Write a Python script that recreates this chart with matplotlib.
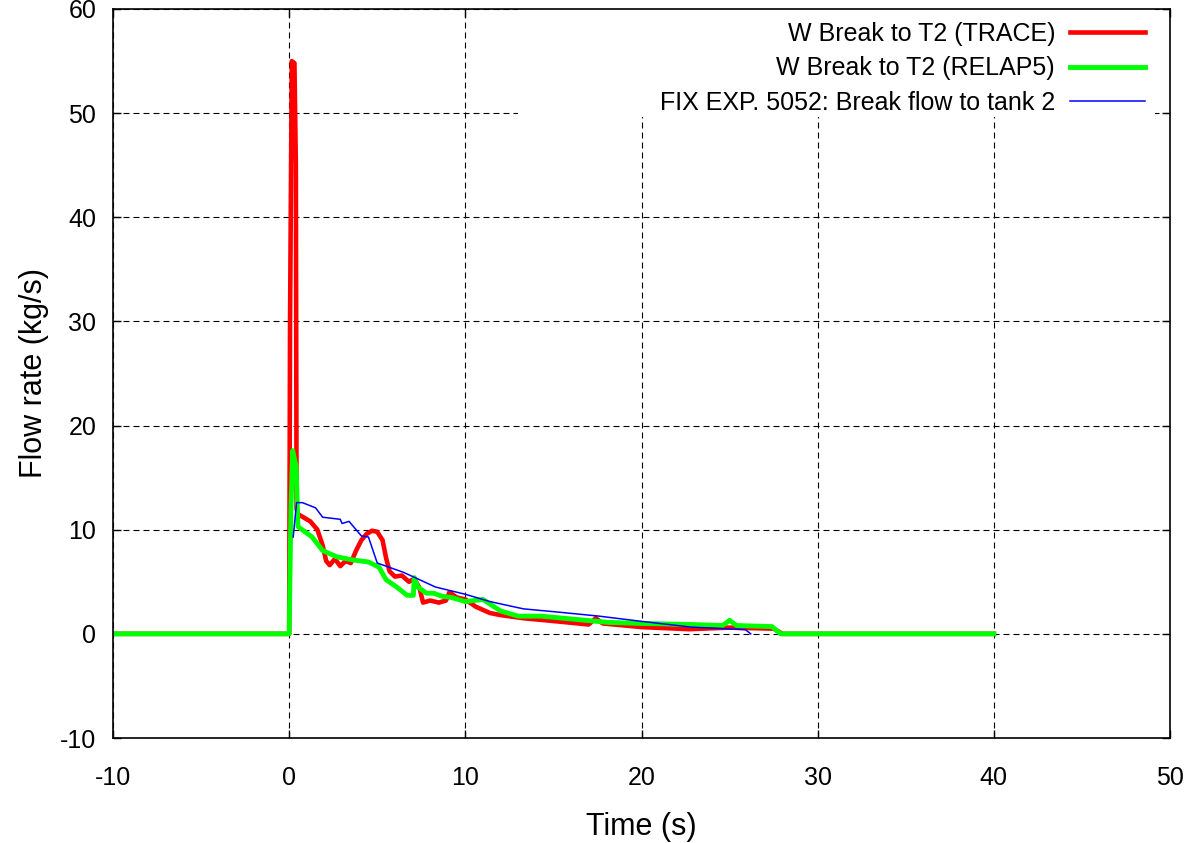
import matplotlib
matplotlib.use("Agg")
import matplotlib.pyplot as plt
from matplotlib.patches import Rectangle

# TRACE
t_trace = [-10, 0.0, 0.05, 0.15, 0.3, 0.38, 0.42, 0.5, 0.8, 1.2, 1.6, 1.9, 2.1, 2.3, 2.6, 2.9,
           3.2, 3.5, 3.8, 4.1, 4.4, 4.7, 5.0, 5.3, 5.5, 5.7, 6.0, 6.4, 6.8, 7.1, 7.4, 7.6, 8.0,
           8.5, 8.9, 9.1, 9.5, 10.0, 10.6, 11.4, 12.0, 13.3, 15.2, 17.0, 17.4, 17.8, 20.0, 22.7,
           25.0, 27.5, 28.0, 40]
w_trace = [0, 0, 30, 55, 54.8, 45, 12, 11.5, 11.2, 10.8, 10.0, 8.5, 7.0, 6.6, 7.2, 6.5,
           7.0, 6.8, 8.0, 9.0, 9.6, 9.9, 9.8, 9.0, 7.3, 6.0, 5.5, 5.6, 5.0, 5.3, 4.4, 3.0, 3.2,
           3.0, 3.2, 4.0, 3.5, 3.3, 2.6, 2.0, 1.8, 1.5, 1.2, 0.9, 1.5, 1.0, 0.65, 0.45,
           0.6, 0.5, 0.0, 0.0]

# RELAP5
t_relap = [-10, 0.0, 0.1, 0.2, 0.4, 0.45, 0.5, 0.9, 1.3, 1.9, 2.7, 3.6, 4.5, 5.1, 5.5, 6.1,
           6.7, 7.05, 7.1, 7.3, 7.8, 8.2, 8.7, 9.2, 10.0, 11.0, 12.0, 13.0, 14.3, 16.2, 18.1,
           20.0, 22.8, 24.6, 25.0, 25.4, 27.4, 27.9, 40]
w_relap = [0, 0, 12, 17.6, 16.0, 13, 10.3, 9.8, 9.3, 8.0, 7.4, 7.1, 6.9, 6.4, 5.2, 4.5,
           3.7, 3.7, 5.4, 4.5, 3.9, 3.9, 3.6, 3.5, 3.1, 3.3, 2.2, 1.7, 1.7, 1.4, 1.1,
           1.0, 0.9, 0.8, 1.3, 0.8, 0.7, 0.0, 0.0]

# Experiment
t_exp = [0.23, 0.42, 0.75, 1.5, 1.9, 2.9, 3.0, 3.4, 4.1, 4.5, 5.0, 6.5, 8.3, 10.0,
         11.4, 13.3, 15.2, 17.6, 20.0, 22.8, 25.9, 26.2]
w_exp = [9.3, 12.6, 12.6, 12.1, 11.2, 11.0, 10.6, 10.8, 9.4, 9.3, 6.8, 5.9, 4.5, 3.8,
         3.1, 2.4, 2.1, 1.7, 1.2, 0.65, 0.4, 0.0]

labels = ["W Break to T2 (TRACE)", "W Break to T2 (RELAP5)", "FIX EXP. 5052: Break flow to tank 2"]
x_ticks = [-10, 0, 10, 20, 30, 40, 50]
y_ticks = [-10, 0, 10, 20, 30, 40, 50, 60]

plt.rcParams['font.family'] = ['Liberation Sans', 'DejaVu Sans']
plt.rcParams['axes.unicode_minus'] = False

fig = plt.figure(figsize=(11.97, 8.43), dpi=100)
ax = fig.add_axes([113/1197, 1 - 738/843, (1170-113)/1197, (738-9)/843])

ax.plot(t_trace, w_trace, color='#ff0000', lw=3.3, label=labels[0], zorder=2)
ax.plot(t_relap, w_relap, color='#00ff00', lw=3.5, label=labels[1], zorder=2.05)
ax.plot(t_exp, w_exp, color='#0000ff', lw=1.1, label=labels[2], zorder=2.1)

ax.set_xlim(-10, 50)
ax.set_ylim(-10, 60)
ax.set_xticks(x_ticks)
ax.set_yticks(y_ticks)
ax.grid(True, color='black', lw=0.8, linestyle=(0, (5.4, 3.6)))
ax.tick_params(direction='in', length=6, width=1, top=True, right=True, labelsize=18)
ax.tick_params(axis='x', pad=20)
ax.tick_params(axis='y', pad=12)
for s in ax.spines.values():
    s.set_linewidth(1.2)

ax.set_xlabel("Time (s)", fontsize=22, labelpad=16)
ax.set_ylabel("Flow rate (kg/s)", fontsize=22, labelpad=8)

# white key background (gnuplot style opaque key area)
ax.add_patch(Rectangle((518/1197, 1 - 117/843), (1155-518)/1197, (117-9)/843,
                       transform=fig.transFigure, facecolor='white', edgecolor='none',
                       zorder=2.25))

leg = ax.legend(loc='upper right', bbox_to_anchor=(1155/1197, 1 - 12/843),
                bbox_transform=fig.transFigure, markerfirst=False, frameon=False,
                fontsize=18, handlelength=3.0, handletextpad=0.6, labelspacing=0.42,
                borderpad=0.4, borderaxespad=0)
leg.set_zorder(2.3)

fig.savefig("out.png", dpi=100)
